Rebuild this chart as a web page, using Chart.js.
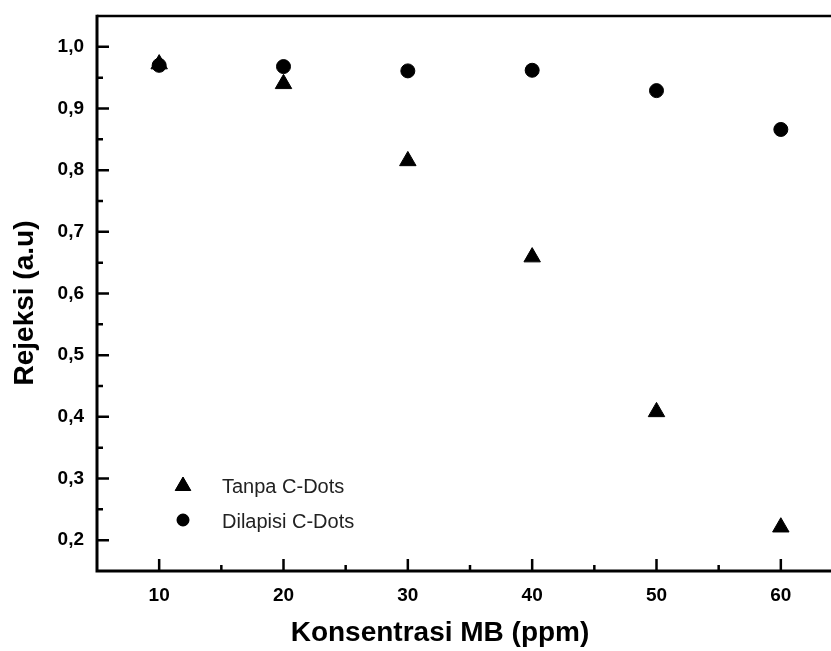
<!DOCTYPE html>
<html>
<head>
<meta charset="utf-8">
<script src="https://cdn.jsdelivr.net/npm/chart.js@4"></script>
<style>
html,body{margin:0;padding:0;background:#fff;overflow:hidden;width:831px;height:651px;}
#wrap{width:860px;height:651px;position:relative;}
</style>
</head>
<body>
<div id="wrap"><canvas id="c" width="860" height="651"></canvas></div>
<script>
const xValues = [10, 20, 30, 40, 50, 60];
const tanpaCDots = [0.972, 0.940, 0.815, 0.659, 0.408, 0.221];
const dilapisiCDots = [0.970, 0.968, 0.961, 0.962, 0.929, 0.866];
const xTickValues = [10, 20, 30, 40, 50, 60];
const xMinorValues = [15, 25, 35, 45, 55, 65];
const yTickValues = [0.2, 0.3, 0.4, 0.5, 0.6, 0.7, 0.8, 0.9, 1.0];
const yMinorValues = [0.25, 0.35, 0.45, 0.55, 0.65, 0.75, 0.85, 0.95];
const seriesNames = ['Tanpa C-Dots', 'Dilapisi C-Dots'];
const xTitle = 'Konsentrasi MB (ppm)';
const yTitle = 'Rejeksi (a.u)';

const FONT = '"Liberation Sans", Arial, sans-serif';

const framePlugin = {
  id: 'frame',
  afterDraw(chart) {
    const ctx = chart.ctx, a = chart.chartArea;
    const xs = chart.scales.x, ys = chart.scales.y;
    ctx.save();
    ctx.strokeStyle = '#000';
    ctx.lineCap = 'butt';
    ctx.lineWidth = 2.5;
    ctx.beginPath();
    ctx.moveTo(a.left, a.top); ctx.lineTo(a.right, a.top); ctx.lineTo(a.right, a.bottom);
    ctx.stroke();
    ctx.lineWidth = 3;
    ctx.beginPath();
    ctx.moveTo(a.left, a.top - 1.25); ctx.lineTo(a.left, a.bottom); ctx.lineTo(a.right, a.bottom);
    ctx.stroke();
    ctx.lineWidth = 2.5;
    ctx.beginPath();
    xTickValues.forEach(v => { const p = xs.getPixelForValue(v); ctx.moveTo(p, a.bottom); ctx.lineTo(p, a.bottom - 12); });
    xMinorValues.forEach(v => { const p = xs.getPixelForValue(v); ctx.moveTo(p, a.bottom); ctx.lineTo(p, a.bottom - 6); });
    yTickValues.forEach(v => { const p = ys.getPixelForValue(v); ctx.moveTo(a.left, p); ctx.lineTo(a.left + 12, p); });
    yMinorValues.forEach(v => { const p = ys.getPixelForValue(v); ctx.moveTo(a.left, p); ctx.lineTo(a.left + 6, p); });
    ctx.stroke();
    ctx.fillStyle = '#000';
    ctx.font = 'bold 28px ' + FONT;
    ctx.textAlign = 'center';
    ctx.textBaseline = 'middle';
    ctx.fillText(xTitle, 440, 633);
    ctx.save();
    ctx.translate(25, 303);
    ctx.rotate(-Math.PI / 2);
    ctx.fillText(yTitle, 0, 0);
    ctx.restore();
    const styles = ['triangle', 'circle'];
    const radii = [9, 6];
    const my = [486, 520];
    const ty = [487, 522];
    ctx.font = '20px ' + FONT;
    ctx.textAlign = 'left';
    seriesNames.forEach((n, i) => {
      ctx.fillStyle = '#000';
      ctx.strokeStyle = '#000';
      ctx.lineWidth = 1;
      Chart.helpers.drawPoint(ctx, {pointStyle: styles[i], radius: radii[i], borderWidth: 1, rotation: 0}, 183, my[i]);
      ctx.fill();
      ctx.fillStyle = '#222';
      ctx.fillText(n, 222, ty[i]);
    });
    ctx.restore();
  }
};

new Chart(document.getElementById('c'), {
  type: 'scatter',
  data: {
    datasets: [
      {
        label: seriesNames[0],
        data: xValues.map((x, i) => ({x: x, y: tanpaCDots[i]})),
        pointStyle: 'triangle',
        pointRadius: 9.5,
        backgroundColor: '#000',
        borderColor: '#000',
        borderWidth: 1
      },
      {
        label: seriesNames[1],
        data: xValues.map((x, i) => ({x: x, y: dilapisiCDots[i]})),
        pointStyle: 'circle',
        pointRadius: 7,
        backgroundColor: '#000',
        borderColor: '#000',
        borderWidth: 1
      }
    ]
  },
  options: {
    responsive: false,
    animation: false,
    events: [],
    layout: {padding: {left: 0, top: 16, right: 17, bottom: 0}},
    plugins: {legend: {display: false}, tooltip: {enabled: false}},
    scales: {
      x: {
        type: 'linear',
        min: 5, max: 65,
        grid: {display: false, drawTicks: false},
        border: {display: false},
        afterBuildTicks: s => { s.ticks = xTickValues.map(v => ({value: v})); },
        afterFit: s => { s.height = 80; s.paddingLeft = 0; s.paddingRight = 0; },
        ticks: {
          padding: 13,
          color: '#000',
          font: {family: FONT, size: 19, weight: 'bold'},
          callback: v => String(v)
        }
      },
      y: {
        type: 'linear',
        min: 0.15, max: 1.05,
        grid: {display: false, drawTicks: false},
        border: {display: false},
        afterBuildTicks: s => { s.ticks = yTickValues.map(v => ({value: v})); },
        afterFit: s => { s.width = 97; s.paddingTop = 0; s.paddingBottom = 0; },
        ticks: {
          padding: 13,
          color: '#000',
          font: {family: FONT, size: 19, weight: 'bold'},
          callback: v => v.toFixed(1).replace('.', ',')
        }
      }
    }
  },
  plugins: [framePlugin]
});
</script>
</body>
</html>
